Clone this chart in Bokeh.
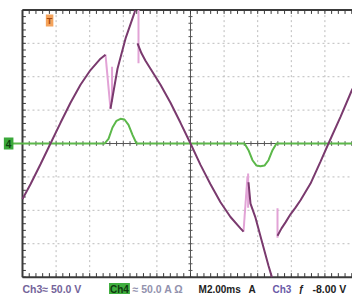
import numpy as np
from bokeh.plotting import figure
from bokeh.models import Range1d, Label
from bokeh.embed import file_html
from bokeh.resources import INLINE

# ---- Channel 3: voltage trace (time in ms, volts) ----
v_seg1_t = [0.0, 0.476, 1.071, 1.667, 2.262, 2.857, 3.452, 4.048, 4.643, 4.940]
v_seg1_v = [-83, -61, -31, 0, 31, 61, 88, 110, 127, 133]
v_ramp1_t = [5.238, 5.655, 6.131, 6.667, 6.713]
v_ramp1_v = [52, 112, 157, 196, 200]
v_seg2_t = [6.845, 7.083, 7.321, 7.619, 7.917, 8.214, 8.810, 9.405, 10.0,
            10.595, 11.190, 11.786, 12.381, 12.976, 13.155]
v_seg2_v = [150, 135, 124, 112, 100, 88, 61, 31, 0, -32, -61, -88, -110, -127, -132]
v_ramp2_t = [13.452, 13.571, 13.869, 14.286, 14.643, 14.845]
v_ramp2_v = [-58, -90, -111, -150, -183, -200]
v_seg3_t = [15.179, 15.417, 15.655, 15.952, 16.250, 16.548, 17.143, 17.738, 18.214, 18.929, 19.643]
v_seg3_v = [-138, -127, -118, -106, -96, -85, -60, -27, 0, 40, 82]
# faint fast transitions of the voltage trace
fast_t = [[4.940, 5.238], [5.33, 5.33], [6.905, 6.905], [13.155, 13.393], [13.43, 13.43], [15.179, 15.179]]
fast_v = [[133, 52], [115, 62], [200, 120], [-132, -49], [-45, -96], [-97, -141]]

# ---- Channel 4: current trace (time in ms, amps) ----
i_t = [0.0, 4.881, 5.119, 5.357, 5.595, 5.833, 6.071, 6.310, 6.548, 6.786,
       13.214, 13.452, 13.690, 13.929, 14.167, 14.405, 14.643, 14.881, 15.119, 19.643]
i_a = [0, 0, 7, 24, 34, 37, 36, 28, 13, 0,
       0, -10, -25, -33, -34, -33, -25, -10, 0, 0]

# ---- scope settings / status line ----
T_DIV = 2.0      # ms / div
V_DIV = 50.0     # V / div
N_XDIV = 10
N_YDIV = 8
status_texts = ["Ch3\u2248  50.0 V", "Ch4", "\u2248 50.0 A \u03a9", "M2.00ms", "A", "Ch3", "\u0192", "-8.00 V"]
status_t = [0.0, 5.15, 6.55, 10.48, 13.45, 14.88, 16.43, 17.26]
status_colors = ["#74649a", "#0f3a0f", "#9292ae", "#222222", "#222222", "#6a5aa8", "#222222", "#222222"]
status_sizes = ["10.5px", "10px", "10.5px", "10px", "10px", "10px", "10px", "10.5px"]

X_LO, X_HI = -1.3095, 19.643
Y_LO, Y_HI = -226.0, 214.1
T_END = N_XDIV * T_DIV
V_TOP = N_YDIV / 2 * V_DIV

p = figure(width=352, height=294, x_range=Range1d(X_LO, X_HI), y_range=Range1d(Y_LO, Y_HI),
           output_backend="svg", toolbar_location=None, x_axis_type=None, y_axis_type=None,
           min_border=0, background_fill_color="white", border_fill_color="white",
           outline_line_color=None)
p.xgrid.visible = False
p.ygrid.visible = False

# dotted graticule
gx = np.arange(T_DIV, T_END, T_DIV)
gy = np.arange(-V_TOP + V_DIV, V_TOP, V_DIV)
p.segment(x0=gx, x1=gx, y0=-V_TOP, y1=V_TOP, line_color="#bcbcbc", line_dash="2 3", line_width=1)
p.segment(x0=0, x1=T_END, y0=gy, y1=gy, line_color="#bcbcbc", line_dash="2 3", line_width=1)

# centre cross
p.segment(x0=T_END / 2, x1=T_END / 2, y0=-V_TOP, y1=V_TOP, line_color="#555555", line_width=1)
p.segment(x0=0, x1=T_END, y0=0, y1=0, line_color="#555555", line_width=1)

# minor ticks on centre lines and border
ty = np.arange(-V_TOP, V_TOP + 0.1, V_DIV / 5)
tx = np.arange(0, T_END + 0.01, T_DIV / 5)
p.segment(x0=T_END / 2 - 0.12, x1=T_END / 2 + 0.12, y0=ty, y1=ty, line_color="#555555", line_width=1)
p.segment(x0=tx, x1=tx, y0=-3.5, y1=3.5, line_color="#555555", line_width=1)
p.segment(x0=0, x1=0.2, y0=ty, y1=ty, line_color="#3a3a3a", line_width=1)
p.segment(x0=tx, x1=tx, y0=V_TOP, y1=V_TOP - 6, line_color="#3a3a3a", line_width=1)
p.segment(x0=tx, x1=tx, y0=-V_TOP, y1=-V_TOP + 6, line_color="#3a3a3a", line_width=1)

# border
p.segment(x0=[0, 0, 0], x1=[0, T_END, T_END], y0=[-V_TOP, V_TOP, -V_TOP], y1=[V_TOP, V_TOP, -V_TOP],
          line_color="#3a3a3a", line_width=2)

# current trace
p.line([X_LO + 0.7] + i_t, [0] + i_a, line_color="#5cb84a", line_width=2)

# voltage trace
p.multi_line(fast_t, fast_v, line_color="#e2a3d6", line_width=2)
p.multi_line([v_seg1_t, v_ramp1_t, v_seg2_t, v_ramp2_t, v_seg3_t],
             [v_seg1_v, v_ramp1_v, v_seg2_v, v_ramp2_v, v_seg3_v],
             line_color="#7a3a6e", line_width=2)

# channel ground marker and trigger-position marker
p.add_layout(Label(x=X_LO + 0.2, y=0, text="4",
                   text_font="Liberation Sans", text_font_size="10px", text_font_style="bold",
                   text_color="#0f3f0f", text_baseline="middle",
                   background_fill_color="#3aa83a", padding=2))
p.add_layout(Label(x=1.39, y=V_TOP - 7, text="T",
                   text_font="Liberation Sans", text_font_size="9px", text_font_style="bold",
                   text_color="#a84a10", text_baseline="top",
                   background_fill_color="#f4a35c", padding=1))

# status line
for txt, xx, cc, ss in zip(status_texts, status_t, status_colors, status_sizes):
    kw = {}
    if txt == "Ch4":
        kw = dict(background_fill_color="#3fae3f", padding=1)
    p.add_layout(Label(x=xx, y=-218.5, text=txt,
                       text_font="Liberation Sans", text_font_size=ss, text_font_style="bold",
                       text_color=cc, text_baseline="alphabetic", **kw))

open("out.html", "w").write(file_html(p, INLINE))
